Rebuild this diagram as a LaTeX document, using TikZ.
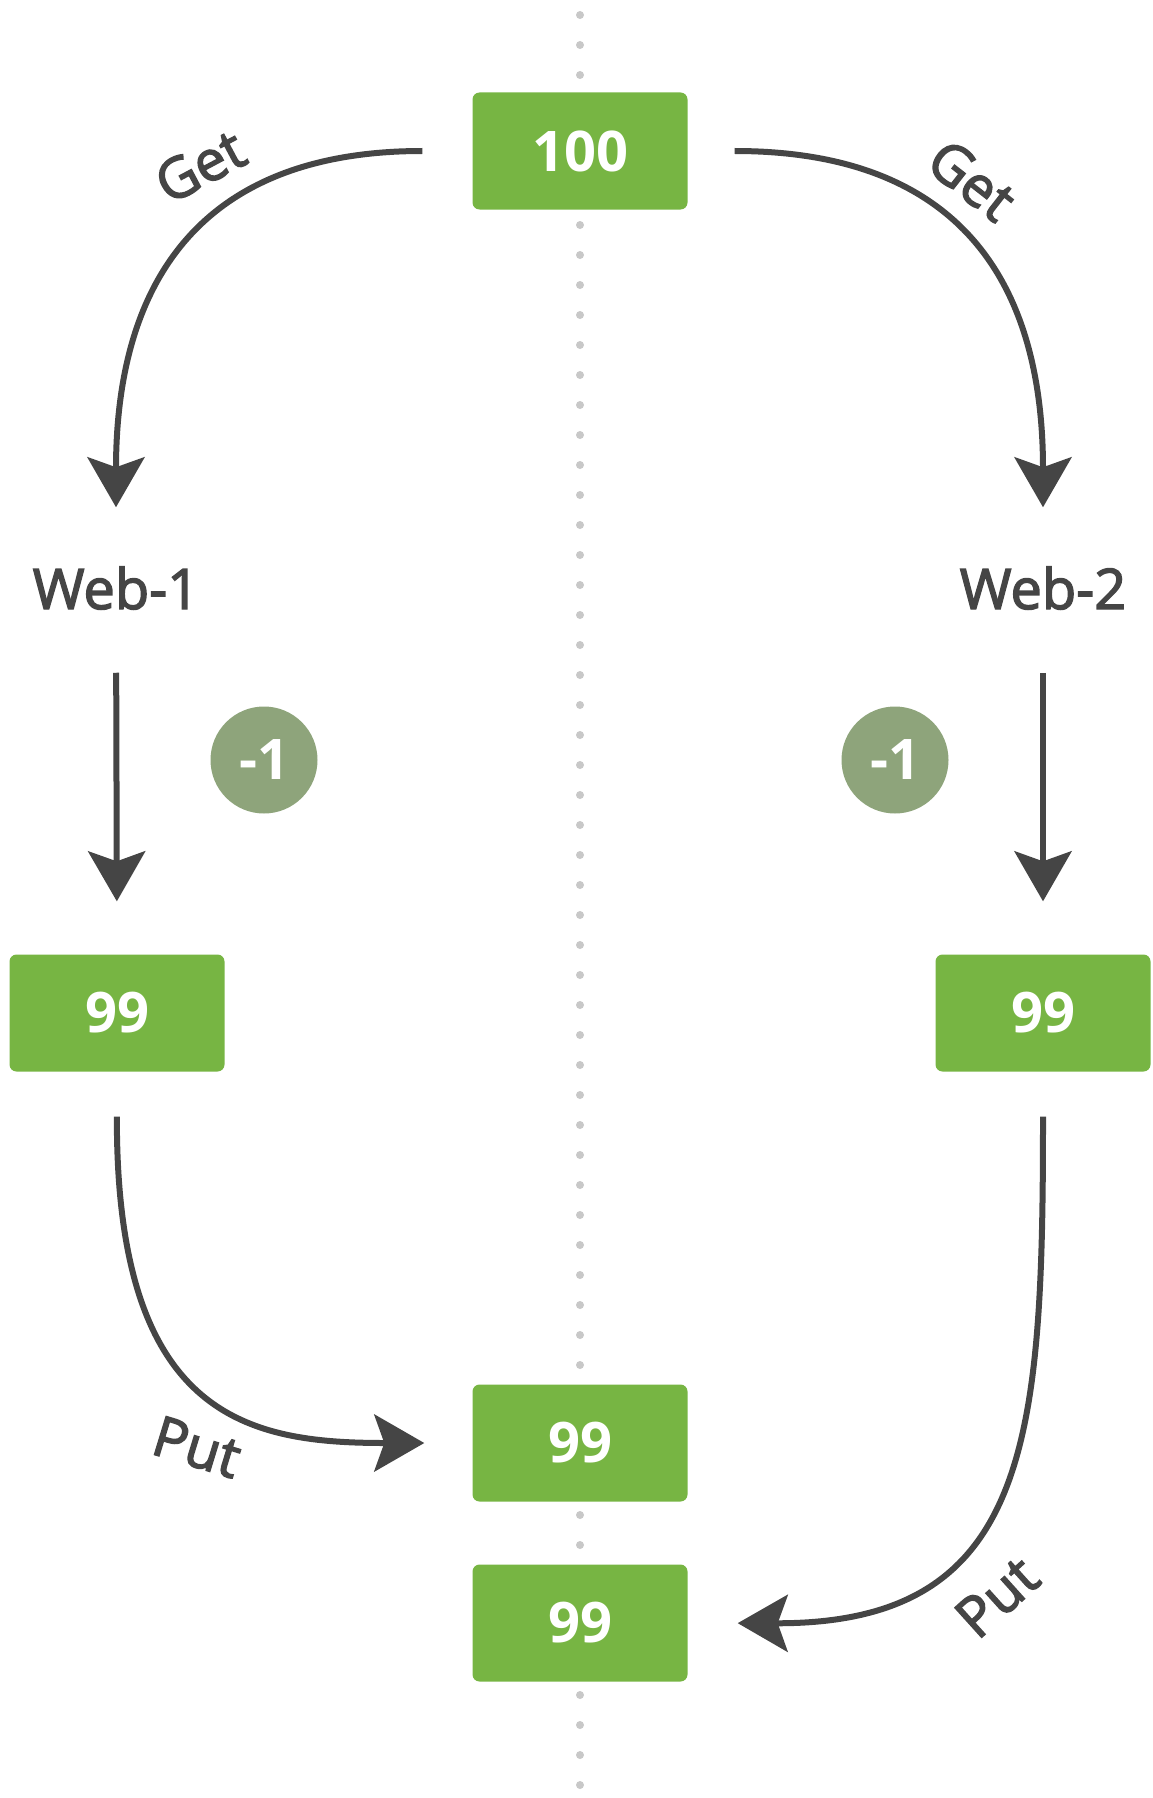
\documentclass[tikz,border=0pt]{standalone}
\usepackage{fontspec}
\setmainfont{Open Sans}
\usetikzlibrary{arrows.meta}
\definecolor{boxgreen}{HTML}{77B543}
\definecolor{circgreen}{HTML}{8EA47B}
\definecolor{ink}{HTML}{454545}
\definecolor{dotgray}{HTML}{C8C8C8}
\tikzset{
  heavytext/.style={execute at begin node={\special{pdf:literal direct 2 Tr 1.4 w}},
    execute at end node={\special{pdf:literal direct 0 Tr}}},
  valbox/.style={fill=boxgreen, rounded corners=7pt, minimum width=215pt, minimum height=117pt,
    inner sep=0pt, text=white, font=\fontsize{56}{60}\selectfont\bfseries},
  decbadge/.style={circle, fill=circgreen, minimum size=107pt, inner sep=0pt, text=white,
    font=\fontsize{56}{60}\selectfont\bfseries},
  weblabel/.style={inner sep=0pt, text=ink, font=\fontsize{56}{60}\selectfont, heavytext},
  oplabel/.style={inner sep=0pt, text=ink, font=\fontsize{56}{60}\selectfont, heavytext},
  conn/.style={draw=ink, line width=6pt, -{Stealth[length=50pt,width=57pt,inset=10pt]}},
  dotline/.style={draw=dotgray, line width=8pt, line cap=round, dash pattern=on 0pt off 30pt}
}
\begin{document}
\begin{tikzpicture}[x=1pt,y=-1pt]
\useasboundingbox (0,0) rectangle (1153,1798);
\coordinate (dtop) at (580,15);
\coordinate (dbot) at (580,1798);
\draw[dotline] (dtop) -- (dbot);

\node[valbox] (top) at (580,151) {100};
\node[weblabel] (web1) at (116,588) {Web-1};
\node[weblabel] (web2) at (1043,588) {Web-2};
\node[decbadge] (dec1) at (264,760) {-1};
\node[decbadge] (dec2) at (895,760) {-1};
\node[valbox] (l99) at (117,1013) {99};
\node[valbox] (r99) at (1043,1013) {99};
\node[valbox] (m1) at (580,1443) {99};
\node[valbox] (m2) at (580,1623) {99};

\node[oplabel, rotate=28] (get1) at (200,166) {Get};
\node[oplabel, rotate=-38] (get2) at (972,180) {Get};
\node[oplabel, rotate=-17] (put1) at (197,1447) {Put};
\node[oplabel, rotate=42] (put2) at (997,1597) {Put};

\draw[conn, shorten <=50pt, shorten >=59pt] (top.west) .. controls (170,151) and (116,320) .. (web1.north);
\draw[conn, shorten <=47pt, shorten >=59pt] (top.east) .. controls (990,151) and (1043,320) .. (web2.north);
\draw[conn, shorten <=63pt, shorten >=53pt] (web1.south) -- (l99.north);
\draw[conn, shorten <=63pt, shorten >=53pt] (web2.south) -- (r99.north);
\draw[conn, shorten <=45pt, shorten >=48pt] (l99.south) .. controls (116,1420) and (250,1443) .. (m1.west);
\draw[conn, shorten <=45pt, shorten >=50pt] (r99.south) .. controls (1043,1440) and (1030,1624) .. (m2.east);
\end{tikzpicture}
\end{document}
